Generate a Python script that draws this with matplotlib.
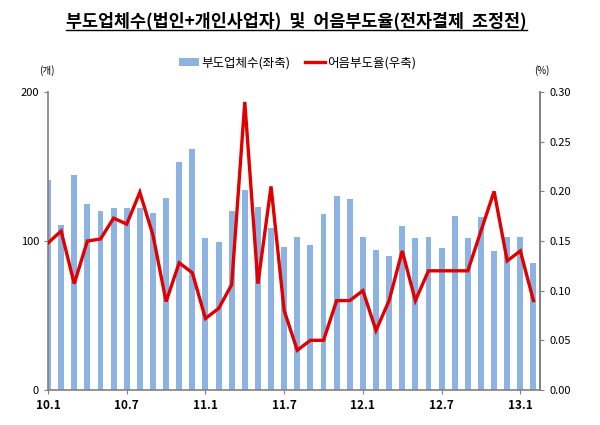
import matplotlib
matplotlib.use("Agg")
import matplotlib.pyplot as plt
from matplotlib.lines import Line2D
from matplotlib.patches import Patch
import numpy as np

plt.rcParams['font.family'] = ['Noto Sans CJK KR', 'DejaVu Sans']

months = [f"{y}.{m}" for y in (10, 11, 12) for m in range(1, 13)] + ["13.1", "13.2"]
firms = [141, 111, 144, 125, 120, 122, 122, 122, 119, 129, 153, 162,
         102, 99, 120, 134, 123, 109, 96, 103, 97, 118, 130, 128,
         103, 94, 90, 110, 102, 103, 95, 117, 102, 116, 93, 103,
         103, 85]
rate = [0.148, 0.16, 0.107, 0.15, 0.152, 0.173, 0.167, 0.199, 0.156, 0.089, 0.128, 0.118,
        0.072, 0.082, 0.106, 0.29, 0.107, 0.205, 0.08, 0.04, 0.05, 0.05, 0.09, 0.09,
        0.10, 0.06, 0.09, 0.14, 0.09, 0.12, 0.12, 0.12, 0.12, 0.16, 0.20, 0.13,
        0.14, 0.09]
tick_labels = ["10.1", "10.7", "11.1", "11.7", "12.1", "12.7", "13.1"]

title = "부도업체수(법인+개인사업자)  및  어음부도율(전자결제  조정전)"
bar_label = "부도업체수(좌축)"
line_label = "어음부도율(우축)"

bar_color = "#8DB3E2"
line_color = "#E00000"
spine_color = "#808080"

fig = plt.figure(figsize=(6, 4.25), dpi=100)
ax = fig.add_axes([0.08, 0.0824, 0.82, 0.7011])
x = np.arange(len(months))
ax.bar(x, firms, width=0.45, color=bar_color, zorder=2)
ax.set_xlim(0, 37.5)
ax.set_ylim(0, 200)
ax.set_yticks([0, 100, 200])
ax.set_yticklabels(["0", "100", "200"], fontsize=8)
tick_pos = [months.index(t) for t in tick_labels]
ax.set_xticks(tick_pos)
ax.set_xticklabels(tick_labels, fontsize=8.5, fontweight='bold')
ax.spines['top'].set_visible(False)
for s in ('left', 'bottom', 'right'):
    ax.spines[s].set_color(spine_color)
    ax.spines[s].set_linewidth(1.2)
ax.tick_params(axis='both', colors=spine_color, labelcolor='black', length=3)

ax2 = ax.twinx()
ax2.plot(x, rate, color=line_color, linewidth=2.4, zorder=3, solid_joinstyle='miter')
ax2.set_ylim(0, 0.30)
ax2.set_yticks(np.arange(0, 0.301, 0.05))
ax2.set_yticklabels([f"{v:.2f}" for v in np.arange(0, 0.301, 0.05)], fontsize=8)
ax2.spines['top'].set_visible(False)
ax2.spines['left'].set_visible(False)
ax2.spines['bottom'].set_visible(False)
ax2.spines['right'].set_color(spine_color)
ax2.spines['right'].set_linewidth(1.2)
ax2.tick_params(axis='y', colors=spine_color, labelcolor='black', length=3)
ax2.set_xlim(0, 37.5)

fig.text(0.078, 0.835, "(개)", fontsize=7, ha='center', va='center')
fig.text(0.903, 0.835, "(%)", fontsize=7, ha='center', va='center')

handles = [Patch(facecolor=bar_color, edgecolor='none'),
           Line2D([0], [0], color=line_color, linewidth=2.4)]
fig.legend(handles, [bar_label, line_label], loc='center', bbox_to_anchor=(0.496, 0.852),
           ncol=2, frameon=False, fontsize=9, handlelength=1.6, handleheight=0.5,
           columnspacing=1.2, handletextpad=0.2)

t = fig.text(0.494, 0.95, title, fontsize=12.5, fontweight='bold', ha='center', va='center')
fig.canvas.draw()
bb = t.get_window_extent().transformed(fig.transFigure.inverted())
fig.add_artist(Line2D([bb.x0, bb.x1], [bb.y0 + 0.002, bb.y0 + 0.002], color='black',
                      linewidth=1, transform=fig.transFigure))

fig.savefig("out.png", dpi=100)
